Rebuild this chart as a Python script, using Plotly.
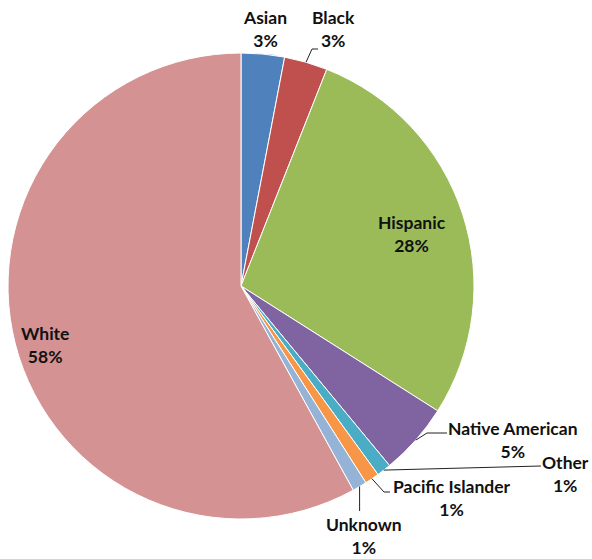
import math
import plotly.graph_objects as go

# Share of population by group (percent)
groups = ["Asian", "Black", "Hispanic", "Native American", "Other",
          "Pacific Islander", "Unknown", "White"]
shares = [3, 3, 28, 5, 1, 1, 1, 58]
colors = ["#4F81BD", "#C0504D", "#9BBB59", "#8064A2", "#4BACC6",
          "#F79646", "#95B3D7", "#D49392"]

W, H = 592, 559
CX, CY, R = 241, 286, 233  # pie centre / radius in pixels

def px(x):
    return x / W

def py(y):
    return 1 - y / H

fig = go.Figure(go.Pie(
    labels=groups, values=shares, sort=False, direction="clockwise",
    rotation=0, textinfo="none", hoverinfo="label+percent",
    marker=dict(colors=colors, line=dict(color="white", width=1)),
    domain=dict(x=[px(CX - R), px(CX + R)], y=[py(CY + R), py(CY - R)]),
    showlegend=False,
))

# edge point of each slice at its mid angle (pixels)
total = sum(shares)
edge = {}
cum = 0
for g, v in zip(groups, shares):
    mid = (cum + v / 2) / total * 2 * math.pi
    edge[g] = (CX + R * math.sin(mid), CY - R * math.cos(mid))
    cum += v

# label placement (text centre in pixels) and leader line bend points
label_pos = {
    "Asian": (265, 29),
    "Black": (333, 29),
    "Hispanic": (412, 234),
    "Native American": (513, 440),
    "Other": (565, 474),
    "Pacific Islander": (452, 498),
    "Unknown": (364, 536),
    "White": (45, 345),
}
leaders = {
    "Black": [(312, 49), (318, 49)],
    "Native American": [(427, 433), (447, 433)],
    "Other": [(541, 466)],
    "Pacific Islander": [(384, 492), (390, 492)],
    "Unknown": [(None, 511)],
}

font = dict(family="Lato, Open Sans, sans-serif", size=17.5, color="#111111")
annotations = []
for g, v in zip(groups, shares):
    x, y = label_pos[g]
    annotations.append(dict(
        x=px(x), y=py(y), xref="paper", yref="paper", showarrow=False,
        text=f"<b>{g}</b><br><b>{v}%</b>", font=font, align="center",
        xanchor="center", yanchor="middle",
    ))

shapes = []
for g, pts in leaders.items():
    sx, sy = edge[g]
    prev = (sx, sy)
    for (bx, by) in pts:
        if bx is None:
            bx = prev[0]
        shapes.append(dict(type="line", xref="paper", yref="paper",
                           x0=px(prev[0]), y0=py(prev[1]), x1=px(bx), y1=py(by),
                           line=dict(color="#222222", width=1)))
        prev = (bx, by)

fig.update_layout(
    width=W, height=H, margin=dict(l=0, r=0, t=0, b=0),
    paper_bgcolor="white", plot_bgcolor="white",
    annotations=annotations, shapes=shapes,
)

fig.write_html("out.html")
